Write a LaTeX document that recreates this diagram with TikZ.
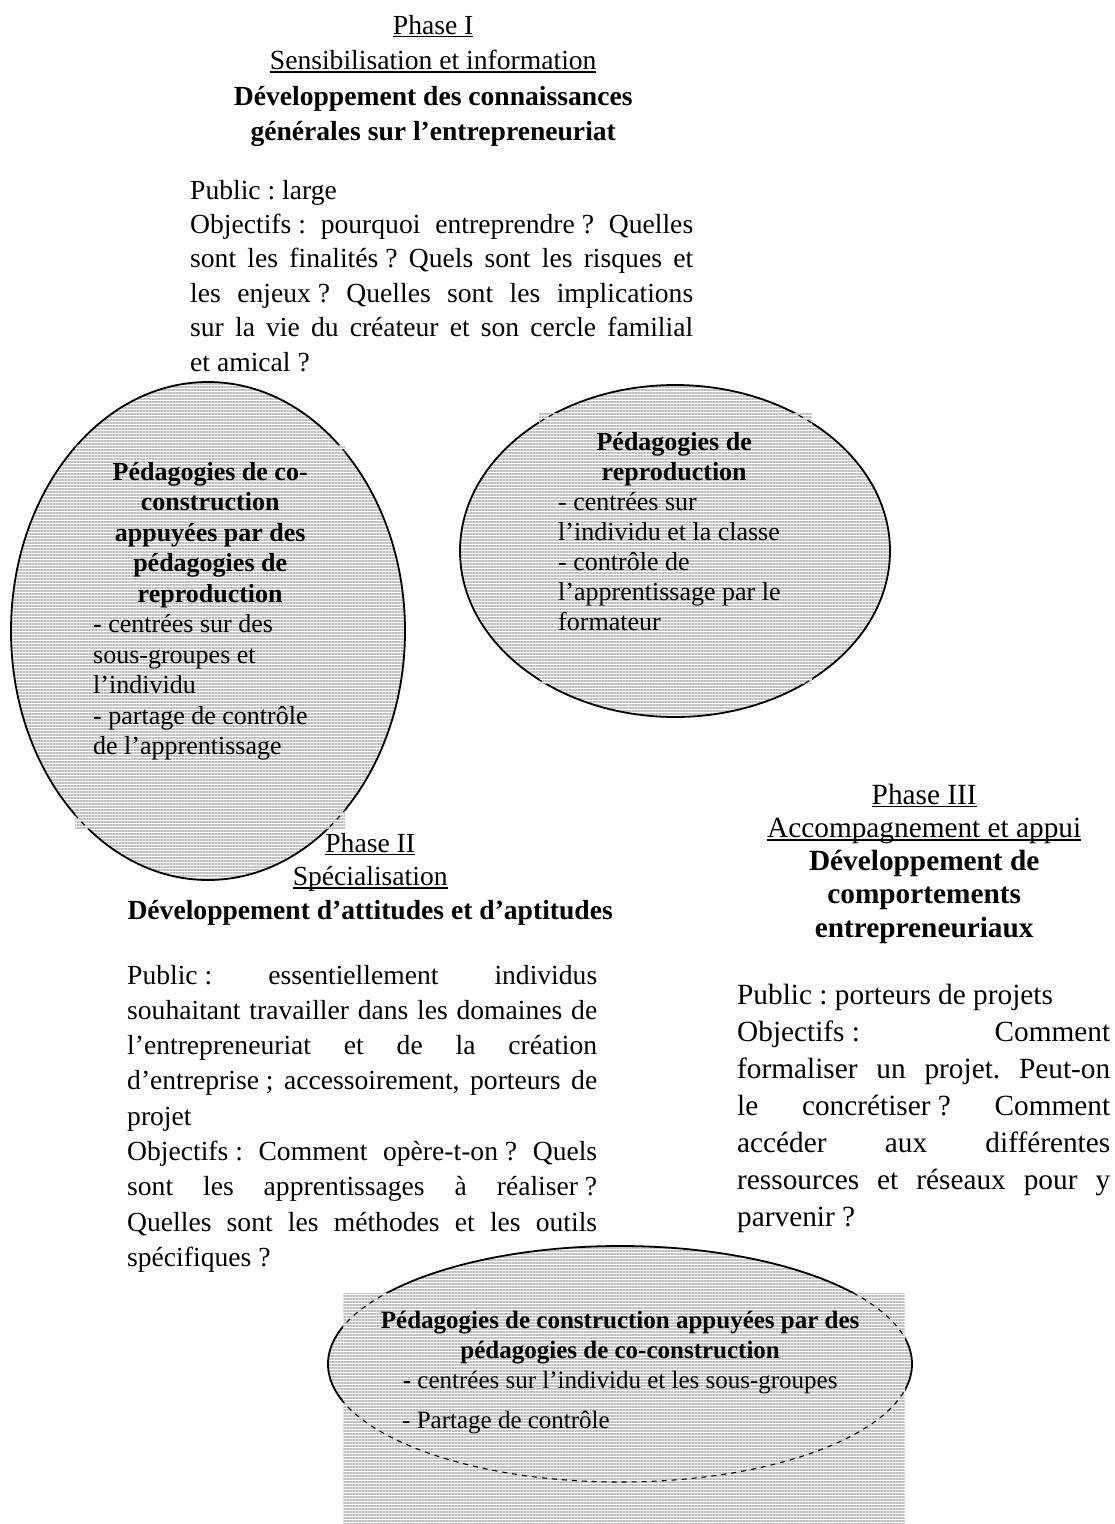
\documentclass[tikz,border=0pt]{standalone}
\usepackage{fontspec}
\setmainfont{Liberation Serif}
\usetikzlibrary{patterns.meta}

% width of the current text block
\newlength\bw
% fixed (non-stretching) space before : ; ?
\newcommand\nbs{\kern0.25em\relax}
% justified, left-aligned and centred lines of a block
\newcommand\J[1]{\hbox to \bw{#1}}
\newcommand\Lft[1]{\hbox to \bw{#1\hfil}}
\newcommand\Ctr[1]{\hbox to \bw{\hfil#1\hfil}}
% underline set at a fixed depth below the baseline
\newcommand\wul[1]{\setbox0\hbox{#1}\rlap{\rule[-0.11em]{\wd0}{0.055em}}\box0}
% a block of lines: width, line pitch, font, lines
\newcommand\blk[4]{\vtop{\setlength\bw{#1}#3\baselineskip=#2\lineskiplimit=-1000pt\relax #4}}
\newcommand\fbody{\fontsize{27.6}{35}\selectfont}
\newcommand\fthree{\fontsize{29.3}{37}\selectfont}
\newcommand\fell{\fontsize{26}{30}\selectfont}
\newcommand\fellc{\fontsize{25}{30}\selectfont}

\begin{document}
\frenchspacing\hbadness=10000\hfuzz=20pt
\begin{tikzpicture}[x=1pt,y=-1pt,
  hatch/.style={pattern={Lines[angle=0,distance=3pt,line width=2pt]},pattern color=black!25},
  rim/.style={line width=1.8pt},
  rimcut/.style={line width=1.1pt,dash pattern=on 5pt off 5pt},
  txt/.style={anchor=base west,inner sep=0pt}]
\useasboundingbox (0,0) rectangle (1115,1524);

% ---- hatched ellipses with their rectangular text frames ----
% left ellipse
\path[hatch] (208,631) ellipse [x radius=197,y radius=249];
\draw[rim] (208,631) ellipse [x radius=197,y radius=249];
\fill[white] (75,445) rectangle (345,828);
\fill[hatch] (75,445) rectangle (345,828);
\begin{scope}
  \clip (75,445) rectangle (345,828);
  \draw[rimcut] (208,631) ellipse [x radius=197,y radius=249];
\end{scope}

% right ellipse
\path[hatch] (675,551) ellipse [x radius=215,y radius=166];
\draw[rim] (675,551) ellipse [x radius=215,y radius=166];
\fill[white] (539,413) rectangle (812,683);
\fill[hatch] (539,413) rectangle (812,683);
\begin{scope}
  \clip (539,413) rectangle (812,683);
  \draw[rimcut] (675,551) ellipse [x radius=215,y radius=166];
\end{scope}

% bottom ellipse
\path[hatch] (620,1364) ellipse [x radius=292,y radius=118];
\draw[rim] (620,1364) ellipse [x radius=292,y radius=118];
\fill[white] (343,1293) rectangle (905,1524);
\fill[hatch] (343,1293) rectangle (905,1524);
\begin{scope}
  \clip (343,1293) rectangle (905,1524);
  \draw[rimcut] (620,1364) ellipse [x radius=292,y radius=118];
\end{scope}

% ---- Phase I ----
\node[txt] (p1head) at (133,34) {\blk{600pt}{35.5pt}{\fbody}{%
  \Ctr{\wul{Phase I}}
  \Ctr{\wul{Sensibilisation et information}}
  \Ctr{\bfseries Développement des connaissances}
  \Ctr{\bfseries générales sur l’entrepreneuriat}}};

\node[txt] (p1body) at (190,199) {\blk{503pt}{34.4pt}{\fbody}{%
  \Lft{Public\nbs: large}
  \J{Objectifs\nbs: pourquoi entreprendre\nbs? Quelles}
  \J{sont les finalités\nbs? Quels sont les risques et}
  \J{les enjeux\nbs? Quelles sont les implications}
  \J{sur la vie du créateur et son cercle familial}
  \Lft{et amical\nbs?}}};

% ---- text inside the left ellipse ----
\node[txt] (coco) at (93,480) {\blk{234pt}{30.5pt}{\fell}{%
  \Ctr{\bfseries Pédagogies de co-}
  \Ctr{\bfseries construction}
  \Ctr{\bfseries appuyées par des}
  \Ctr{\bfseries pédagogies de}
  \Ctr{\bfseries reproduction}
  \Lft{- centrées sur des}
  \Lft{sous-groupes et}
  \Lft{l’individu}
  \Lft{- partage de contrôle}
  \Lft{de l’apprentissage}}};

% ---- text inside the right ellipse ----
\node[txt] (repro) at (558,450) {\blk{232pt}{30pt}{\fell}{%
  \Ctr{\bfseries Pédagogies de}
  \Ctr{\bfseries reproduction}
  \Lft{- centrées sur}
  \Lft{l’individu et la classe}
  \Lft{- contrôle de}
  \Lft{l’apprentissage par le}
  \Lft{formateur}}};

% ---- Phase II ----
\node[txt] (p2head) at (70,852) {\blk{600pt}{33.5pt}{\fbody}{%
  \Ctr{\wul{Phase II}}
  \Ctr{\wul{Spécialisation}}
  \Ctr{\bfseries Développement d’attitudes et d’aptitudes}}};

\node[txt] (p2body) at (127,984) {\blk{470pt}{35.3pt}{\fbody}{%
  \J{Public\nbs: essentiellement individus}
  \J{souhaitant travailler dans les domaines de}
  \J{l’entrepreneuriat et de la création}
  \J{d’entreprise\nbs; accessoirement, porteurs de}
  \Lft{projet}
  \J{Objectifs\nbs: Comment opère-t-on\nbs? Quels}
  \J{sont les apprentissages à réaliser\nbs?}
  \J{Quelles sont les méthodes et les outils}
  \Lft{spécifiques\nbs?}}};

% ---- Phase III ----
\node[txt] (p3head) at (724,804) {\blk{400pt}{33.3pt}{\fthree}{%
  \Ctr{\wul{Phase III}}
  \Ctr{\wul{Accompagnement et appui}}
  \Ctr{\bfseries Développement de}
  \Ctr{\bfseries comportements}
  \Ctr{\bfseries entrepreneuriaux}}};

\node[txt] (p3body) at (737,1004) {\blk{373pt}{37pt}{\fthree}{%
  \Lft{Public\nbs: porteurs de projets}
  \J{Objectifs\nbs: Comment}
  \J{formaliser un projet. Peut-on}
  \J{le concrétiser\nbs? Comment}
  \J{accéder aux différentes}
  \J{ressources et réseaux pour y}
  \Lft{parvenir\nbs?}}};

% ---- text inside the bottom ellipse ----
\node[txt] (constr) at (360,1328) {\blk{520pt}{30pt}{\fellc}{%
  \Ctr{\bfseries Pédagogies de construction appuyées par des}
  \Ctr{\bfseries pédagogies de co-construction}
  \Ctr{\textbf{-} centrées sur l’individu et les sous-groupes}
  \vskip10pt
  \Lft{\hskip42pt - Partage de contrôle}}};
\end{tikzpicture}
\end{document}
